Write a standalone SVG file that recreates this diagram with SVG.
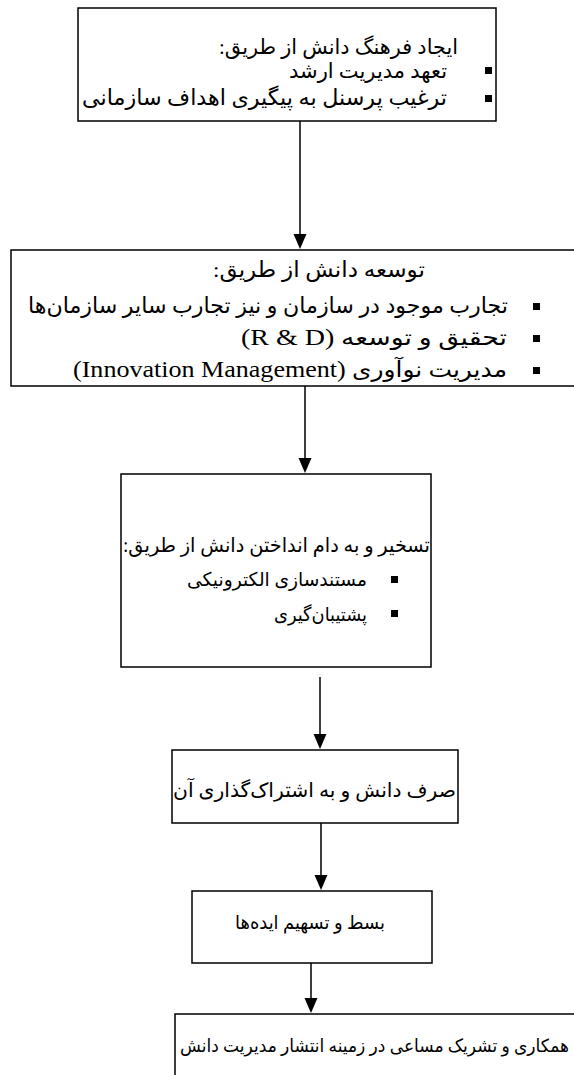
<svg xmlns="http://www.w3.org/2000/svg" width="574" height="1075" viewBox="0 0 574 1075">
<style>
.box{fill:#fff;stroke:#000;stroke-width:1.5}
.t{font-family:"Liberation Serif","DejaVu Sans",serif;font-size:21px;fill:#000;direction:rtl;text-anchor:start}
.s22{font-size:22px}
.s20{font-size:20px}
.s19{font-size:19px}
.s18{font-size:18px}
.lat{font-size:23px}
.b{fill:#000}
.c{stroke:#000;stroke-width:1.5;fill:none}
</style>
<rect width="574" height="1075" fill="#fff"/>
<g id="connectors">
<line class="c" x1="300" y1="121" x2="300" y2="236"/>
<path d="M293.5,234 L306.5,234 L300,249 Z" class="b"/>
<line class="c" x1="305" y1="386" x2="305" y2="460"/>
<path d="M298.5,458 L311.5,458 L305,473 Z" class="b"/>
<line class="c" x1="320" y1="677" x2="320" y2="736"/>
<path d="M313.5,734 L326.5,734 L320,749 Z" class="b"/>
<line class="c" x1="321" y1="823" x2="321" y2="877"/>
<path d="M314.5,875 L327.5,875 L321,890 Z" class="b"/>
<line class="c" x1="311" y1="963" x2="311" y2="1000"/>
<path d="M304.5,998 L317.5,998 L311,1013 Z" class="b"/>
</g>
<g id="n1">
<rect class="box" x="78" y="8" width="418" height="113"/>
<text class="t" x="458" y="54" textLength="239" lengthAdjust="spacingAndGlyphs">ایجاد فرهنگ دانش از طریق:</text>
<rect class="b" x="485" y="67" width="7" height="7"/>
<text class="t" x="447" y="78" textLength="158" lengthAdjust="spacingAndGlyphs">تعهد مدیریت ارشد</text>
<rect class="b" x="485" y="95" width="7" height="7"/>
<text class="t s22" x="447" y="105" textLength="365" lengthAdjust="spacingAndGlyphs">ترغیب پرسنل به پیگیری اهداف سازمانی</text>
</g>
<g id="n2">
<rect class="box" x="11" y="250" width="570" height="136"/>
<text class="t s22" x="425" y="277" textLength="212" lengthAdjust="spacingAndGlyphs">توسعه دانش از طریق:</text>
<rect class="b" x="533" y="303" width="7" height="7"/>
<text class="t s22" x="508" y="313" textLength="480" lengthAdjust="spacingAndGlyphs">تجارب موجود در سازمان و نیز تجارب سایر سازمان‌ها</text>
<rect class="b" x="533" y="335" width="7" height="7"/>
<text class="t s22" x="507" y="345" textLength="266" lengthAdjust="spacingAndGlyphs">تحقیق و توسعه <tspan class="lat">(R &amp; D)</tspan></text>
<rect class="b" x="533" y="367" width="7" height="7"/>
<text class="t s22" x="507" y="377" textLength="434" lengthAdjust="spacingAndGlyphs">مدیریت نوآوری <tspan class="lat">(Innovation Management)</tspan></text>
</g>
<g id="n3">
<rect class="box" x="121" y="474" width="310" height="193"/>
<text class="t s20" x="430" y="552" textLength="307" lengthAdjust="spacingAndGlyphs">تسخیر و به دام انداختن دانش از طریق:</text>
<rect class="b" x="391" y="576" width="7" height="7"/>
<text class="t s19" x="367" y="586" textLength="180" lengthAdjust="spacingAndGlyphs">مستندسازی الکترونیکی</text>
<rect class="b" x="391" y="610" width="7" height="7"/>
<text class="t s19" x="367" y="621" textLength="93" lengthAdjust="spacingAndGlyphs">پشتیبان‌گیری</text>
</g>
<g id="n4">
<rect class="box" x="172" y="750" width="286" height="73"/>
<text class="t s20" x="456" y="797" textLength="283" lengthAdjust="spacingAndGlyphs">صرف دانش و به اشتراک‌گذاری آن</text>
</g>
<g id="n5">
<rect class="box" x="192" y="891" width="240" height="72"/>
<text class="t s19" x="385" y="929" textLength="150" lengthAdjust="spacingAndGlyphs">بسط و تسهیم ایده‌ها</text>
</g>
<g id="n6">
<rect class="box" x="175" y="1014" width="410" height="70"/>
<text class="t s18" x="569" y="1052" textLength="389" lengthAdjust="spacingAndGlyphs">همکاری و تشریک مساعی در زمینه انتشار مدیریت دانش</text>
</g>
</svg>
